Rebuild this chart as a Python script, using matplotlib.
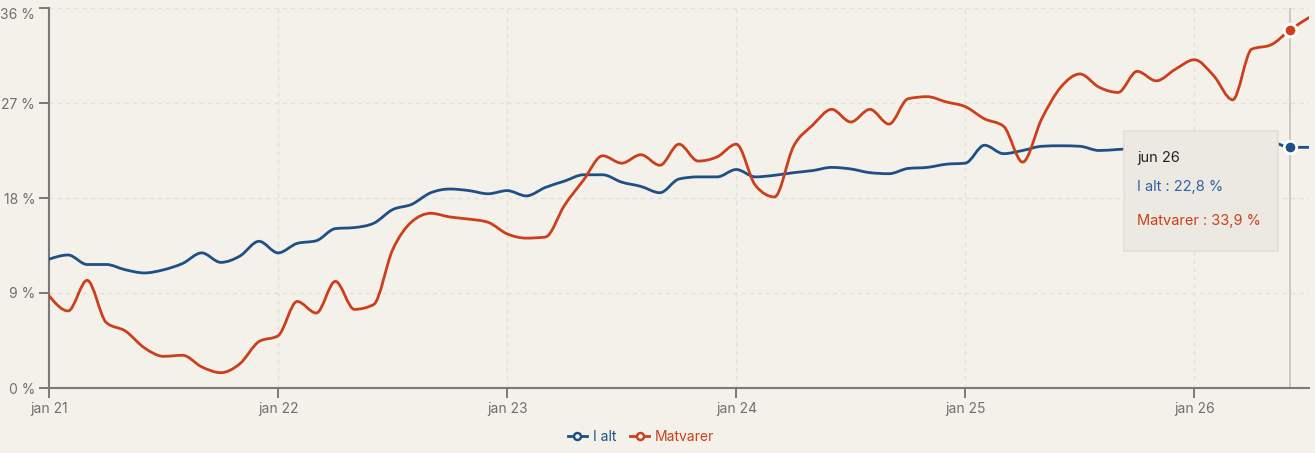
import numpy as np
import matplotlib
matplotlib.use("Agg")
import matplotlib.pyplot as plt
from matplotlib.path import Path
from matplotlib.patches import PathPatch, FancyBboxPatch
from matplotlib.lines import Line2D

plt.rcParams['font.family'] = ['Inter', 'DejaVu Sans']

# månedlig prisvekst (%), jan 21 - jul 26
i_alt = [12.2, 12.6, 11.7, 11.7, 11.2, 10.9, 11.2, 11.8, 12.8, 11.9, 12.5, 13.9,
         12.8, 13.7, 13.95, 15.1, 15.2, 15.6, 16.9, 17.4, 18.5, 18.85, 18.7, 18.4,
         18.7, 18.2, 19.0, 19.6, 20.2, 20.2, 19.5, 19.1, 18.5, 19.8, 20.0, 20.0,
         20.7, 20.0, 20.15, 20.4, 20.6, 20.9, 20.75, 20.4, 20.3, 20.8, 20.9, 21.2,
         21.3, 23.0, 22.2, 22.5, 22.9, 22.95, 22.9, 22.5, 22.6, 22.7, 22.8, 22.9,
         23.0, 23.1, 23.2, 23.3, 23.3, 22.8, 22.8]
matvarer = [8.75, 7.3, 10.2, 6.2, 5.4, 3.8, 3.0, 3.1, 2.0, 1.45, 2.3, 4.4,
            4.95, 8.2, 7.1, 10.1, 7.45, 7.9, 13.1, 15.75, 16.55, 16.2, 16.0, 15.7,
            14.6, 14.2, 14.3, 17.3, 19.7, 22.0, 21.3, 22.1, 21.1, 23.1, 21.5, 21.9,
            23.1, 19.2, 18.1, 22.9, 24.9, 26.4, 25.2, 26.4, 25.0, 27.4, 27.6, 27.1,
            26.65, 25.5, 24.8, 21.4, 25.5, 28.5, 29.75, 28.5, 28.0, 30.0, 29.1, 30.2,
            31.1, 29.6, 27.3, 32.1, 32.5, 33.9, 35.1]
year_labels = ['jan 21', 'jan 22', 'jan 23', 'jan 24', 'jan 25', 'jan 26']
y_ticks = [0, 9, 18, 27, 36]
hover_idx = 65
hover_label = 'jun 26'

blue = '#1e4f86'
red = '#cb3f1c'
bg = '#f4f1ea'


def monotone_path(x, y):
    # kurve som d3 curveMonotoneX, tegnet som bezier-segmenter
    x = np.asarray(x, float)
    y = np.asarray(y, float)
    n = len(x)
    h = np.diff(x)
    s = np.diff(y) / h
    t = np.zeros(n)
    for k in range(1, n - 1):
        p = (s[k - 1] * h[k] + s[k] * h[k - 1]) / (h[k - 1] + h[k])
        t[k] = (np.sign(s[k - 1]) + np.sign(s[k])) * min(abs(s[k - 1]), abs(s[k]), 0.5 * abs(p))
    t[0] = (3 * s[0] - t[1]) / 2
    t[-1] = (3 * s[-1] - t[-2]) / 2
    verts = [(x[0], y[0])]
    codes = [Path.MOVETO]
    for k in range(n - 1):
        d = h[k] / 3
        verts += [(x[k] + d, y[k] + d * t[k]), (x[k + 1] - d, y[k + 1] - d * t[k + 1]), (x[k + 1], y[k + 1])]
        codes += [Path.CURVE4] * 3
    return Path(verts, codes)


months = np.arange(len(i_alt))

fig = plt.figure(figsize=(13.15, 4.53), dpi=100, facecolor=bg)
ax = fig.add_axes([49 / 1315, 65 / 453, 1260 / 1315, 380 / 453])
ax.set_facecolor(bg)

ax.set_xlim(0, len(i_alt) - 1)
ax.set_ylim(0, 36)

for vals, col, z in [(i_alt, blue, 3), (matvarer, red, 4)]:
    ax.add_patch(PathPatch(monotone_path(months, vals), facecolor='none', edgecolor=col,
                           lw=2.0, capstyle='round', joinstyle='round', zorder=z))

ax.axvline(hover_idx, color='#c4c1bb', lw=1.2, zorder=2)
ax.plot([hover_idx], [i_alt[hover_idx]], 'o', ms=9, mfc=blue, mec='white', mew=2, zorder=6)
ax.plot([hover_idx], [matvarer[hover_idx]], 'o', ms=9, mfc=red, mec='white', mew=2, zorder=6)

ax.set_yticks(y_ticks)
ax.set_yticklabels([f'{v} %' for v in y_ticks])
ax.set_xticks(np.arange(0, len(i_alt), 12))
ax.set_xticklabels(year_labels)
ax.tick_params(axis='both', colors='#6f6f6f', labelsize=10, length=7, width=1.3, labelcolor='#6f6f6f')
ax.tick_params(axis='x', pad=3)
ax.tick_params(axis='y', pad=3)
ax.get_yticklabels()[-1].set_va('top')

ax.grid(True, color='#e3e0d9', lw=1, ls=(0, (3, 3)))
ax.set_axisbelow(True)
for side in ['top', 'right']:
    ax.spines[side].set_visible(False)
for side in ['left', 'bottom']:
    ax.spines[side].set_color('#7a7a7a')
    ax.spines[side].set_linewidth(1.5)

# tooltip
box = FancyBboxPatch((1124 / 1315, (453 - 251) / 453), 154 / 1315, 120 / 453,
                     boxstyle='square,pad=0', transform=fig.transFigure,
                     facecolor='#ece9e2', edgecolor='#e2dfd7', lw=1.2, zorder=10)
fig.patches.append(box)
fig.text(1137 / 1315, (453 - 162) / 453, hover_label, color='#222222', fontsize=10.5, zorder=11)
fig.text(1137 / 1315, (453 - 191) / 453, f'I alt : {i_alt[hover_idx]:.1f} %'.replace('.', ','),
         color='#2f62a0', fontsize=10.5, zorder=11)
fig.text(1137 / 1315, (453 - 225) / 453, f'Matvarer : {matvarer[hover_idx]:.1f} %'.replace('.', ','),
         color=red, fontsize=10.5, zorder=11)

handles = [Line2D([], [], color=blue, lw=2, marker='o', ms=5, mfc='white', mec=blue, mew=1.8),
           Line2D([], [], color=red, lw=2, marker='o', ms=5, mfc='white', mec=red, mew=1.8)]
leg = fig.legend(handles, ['I alt', 'Matvarer'], loc='center', bbox_to_anchor=(641 / 1315, 16 / 453),
                 ncol=2, frameon=False, fontsize=10, handlelength=1.4, handletextpad=0.4,
                 columnspacing=1.0)
for txt, col in zip(leg.get_texts(), [blue, red]):
    txt.set_color(col)

fig.savefig('out.png', dpi=100, facecolor=bg)
